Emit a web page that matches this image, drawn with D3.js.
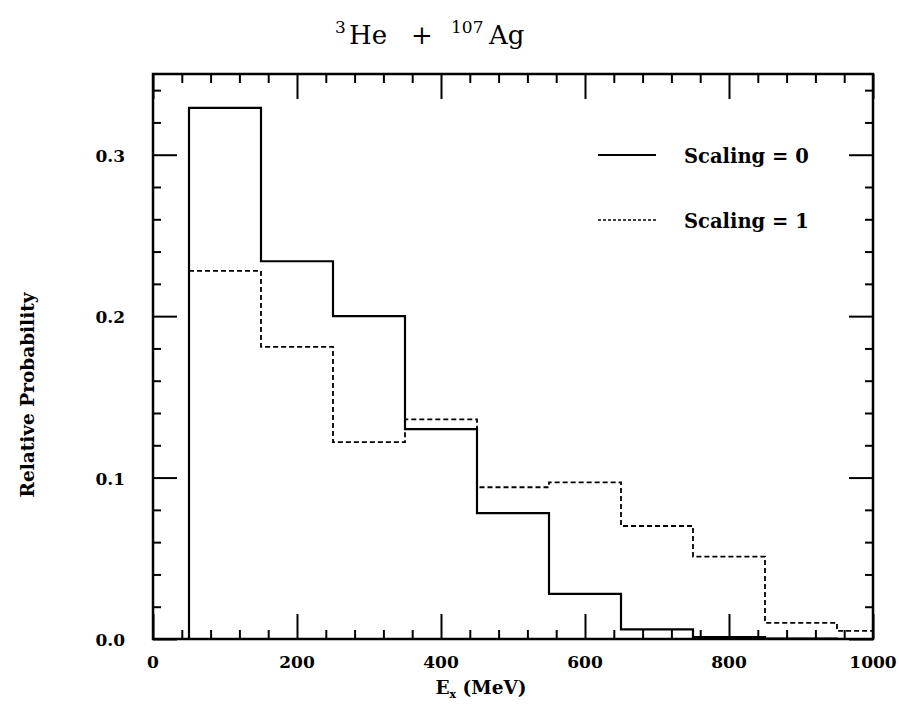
<!DOCTYPE html>
<html>
<head>
<meta charset="utf-8">
<script src="https://cdn.jsdelivr.net/npm/d3@7"></script>
<style>
  body { margin: 0; background: #fff; }
  text { font-family: "DejaVu Serif", serif; fill: #000; }
</style>
</head>
<body>
<div id="chart"></div>
<script>
// bin edges (MeV) and relative probabilities
var binStarts = [50, 150, 250, 350, 450, 550, 650, 750, 850, 950];
var binWidth = 100;
var scaling0 = [0.329, 0.234, 0.200, 0.130, 0.078, 0.028, 0.006, 0.0012, 0.0003, 0];
var scaling1 = [0.228, 0.181, 0.122, 0.136, 0.094, 0.097, 0.070, 0.051, 0.010, 0.005];
var xTicks = [0, 200, 400, 600, 800, 1000];
var yTicks = [0.0, 0.1, 0.2, 0.3];
var legendLabels = ["Scaling = 0", "Scaling = 1"];

var width = 899, height = 706;
var x0 = 153, x1 = 873, y0 = 639, y1 = 74;

var x = d3.scaleLinear().domain([0, 1000]).range([x0, x1]);
var y = d3.scaleLinear().domain([0, 0.35]).range([y0, y1]);

var svg = d3.select("#chart").append("svg")
    .attr("width", width)
    .attr("height", height);

svg.append("defs").append("clipPath").attr("id", "clip")
  .append("rect").attr("x", x0).attr("y", y1).attr("width", x1 - x0).attr("height", y0 - y1);

// minor ticks every 40 MeV / 0.02, major every 200 MeV / 0.1
var xMinor = d3.range(0, 1001, 40).filter(d => d % 200 != 0);
var yMinor = d3.range(0, 0.351, 0.02).filter(d => Math.abs(d * 10 - Math.round(d * 10)) > 1e-6);

function tickAxis(axis, scale, vals, size, tr) {
  var g = svg.append("g").attr("transform", tr)
    .call(axis(scale).tickValues(vals).tickSize(size).tickFormat(""));
  g.select(".domain").remove();
  g.selectAll(".tick line").attr("stroke", "#000").attr("stroke-width", 2);
  return g;
}

// bottom + top
tickAxis(d3.axisTop, x, xMinor, 9, `translate(0,${y0})`);
tickAxis(d3.axisTop, x, xTicks, 25, `translate(0,${y0})`);
tickAxis(d3.axisBottom, x, xMinor, 9, `translate(0,${y1})`);
tickAxis(d3.axisBottom, x, xTicks, 25, `translate(0,${y1})`);
// left + right
tickAxis(d3.axisRight, y, yMinor, 8, `translate(${x0},0)`);
tickAxis(d3.axisRight, y, yTicks, 24, `translate(${x0},0)`);
tickAxis(d3.axisLeft, y, yMinor, 8, `translate(${x1},0)`);
tickAxis(d3.axisLeft, y, yTicks, 24, `translate(${x1},0)`);

// frame
svg.append("rect")
    .attr("x", x0).attr("y", y1)
    .attr("width", x1 - x0).attr("height", y0 - y1)
    .attr("fill", "none").attr("stroke", "#000").attr("stroke-width", 2.5);

// tick labels
svg.append("g").selectAll("text").data(xTicks).join("text")
    .attr("x", d => x(d)).attr("y", y0 + 29)
    .attr("text-anchor", "middle")
    .attr("font-size", 17).attr("font-weight", "bold")
    .text(d => d);

svg.append("g").selectAll("text").data(yTicks).join("text")
    .attr("x", x0 - 28).attr("y", d => y(d) + 7)
    .attr("text-anchor", "end")
    .attr("font-size", 17).attr("font-weight", "bold")
    .text(d => d.toFixed(1));

// histograms
function stepPoints(vals, startZero) {
  var pts = [];
  if (startZero) pts.push([binStarts[0], 0]);
  binStarts.forEach((b, i) => pts.push([b, vals[i]]));
  pts.push([binStarts[binStarts.length - 1] + binWidth, vals[vals.length - 1]]);
  return pts;
}

var line = d3.line()
    .x(d => x(d[0]))
    .y(d => y(d[1]))
    .curve(d3.curveStepAfter);

var plot = svg.append("g").attr("clip-path", "url(#clip)");

plot.append("path")
    .attr("d", line(stepPoints(scaling1, false)))
    .attr("fill", "none").attr("stroke", "#000")
    .attr("stroke-width", 1.8).attr("stroke-dasharray", "5,3");

plot.append("path")
    .attr("d", line(stepPoints(scaling0, true)))
    .attr("fill", "none").attr("stroke", "#000")
    .attr("stroke-width", 2.2);

// legend
var legend = svg.append("g");
legendLabels.forEach(function(lbl, i) {
  var ly = 155 + i * 65;
  legend.append("line")
      .attr("x1", 598).attr("x2", 656).attr("y1", ly).attr("y2", ly)
      .attr("stroke", "#000")
      .attr("stroke-width", i == 0 ? 1.8 : 1.4)
      .attr("stroke-dasharray", i == 0 ? null : "3,2");
  legend.append("text")
      .attr("x", 684).attr("y", ly + 8)
      .attr("font-size", 19.5).attr("font-weight", "bold")
      .attr("xml:space", "preserve")
      .text(lbl);
});

// title
var title = svg.append("text")
    .attr("y", 44)
    .attr("font-size", 26);
title.append("tspan").attr("x", 335).attr("font-size", 17).attr("dy", -11).text("3");
title.append("tspan").attr("x", 349).attr("dy", 11).text("He");
title.append("tspan").attr("x", 411).text("+");
title.append("tspan").attr("x", 451).attr("font-size", 17).attr("dy", -11).text("107");
title.append("tspan").attr("x", 489).attr("dy", 11).text("Ag");

// axis labels
var xl = svg.append("text")
    .attr("x", 481).attr("y", 694)
    .attr("text-anchor", "middle")
    .attr("font-size", 18.5).attr("font-weight", "bold");
xl.append("tspan").text("E");
xl.append("tspan").attr("font-size", 11).attr("dy", 4).text("x");
xl.append("tspan").attr("dy", -4).text(" (MeV)");

svg.append("text")
    .attr("transform", "translate(34,395) rotate(-90)")
    .attr("text-anchor", "middle")
    .attr("font-size", 18.5).attr("font-weight", "bold")
    .text("Relative Probability");
</script>
</body>
</html>
